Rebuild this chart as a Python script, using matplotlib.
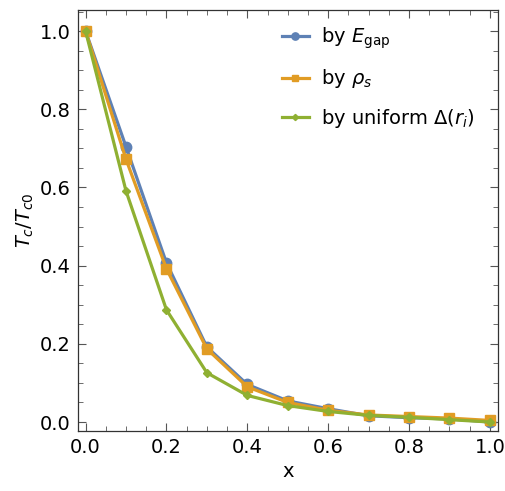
import matplotlib.pyplot as plt
from matplotlib.ticker import MultipleLocator

plt.rcParams['font.family'] = ['DejaVu Sans']
plt.rcParams['mathtext.fontset'] = 'dejavusans'

# данные
x = [0.0, 0.1, 0.2, 0.3, 0.4, 0.5, 0.6, 0.7, 0.8, 0.9, 1.0]
tc_egap = [1.0, 0.704, 0.407, 0.192, 0.096, 0.054, 0.034, 0.016, 0.011, 0.008, 0.0]
tc_rho = [1.0, 0.672, 0.392, 0.187, 0.090, 0.050, 0.030, 0.018, 0.014, 0.010, 0.004]
tc_unif = [1.0, 0.591, 0.287, 0.126, 0.068, 0.042, 0.027, 0.017, 0.012, 0.006, 0.0]

blue = '#5E81B5'
orange = '#E19C24'
green = '#8FB032'

fig = plt.figure(figsize=(5.05, 4.91), dpi=100)
ax = fig.add_axes([0.1535, 0.1222, 0.8325, 0.8574])

ax.plot(x, tc_egap, '-o', color=blue, lw=2.3, ms=7.5, label=r'by $E_{\rm gap}$')
ax.plot(x, tc_rho, '-s', color=orange, lw=2.3, ms=6.5, label=r'by $\rho_s$')
ax.plot(x, tc_unif, '-D', color=green, lw=2.3, ms=4.5, label=r'by uniform $\Delta(r_i)$')

ax.set_xlim(-0.02, 1.02)
ax.set_ylim(-0.023, 1.054)
ax.xaxis.set_major_locator(MultipleLocator(0.2))
ax.xaxis.set_minor_locator(MultipleLocator(0.05))
ax.yaxis.set_major_locator(MultipleLocator(0.2))
ax.yaxis.set_minor_locator(MultipleLocator(0.05))
ax.xaxis.set_major_formatter(plt.FormatStrFormatter('%.1f'))
ax.yaxis.set_major_formatter(plt.FormatStrFormatter('%.1f'))
ax.tick_params(which='both', direction='in', top=True, right=True, labelsize=14, color='#555555')
ax.tick_params(which='major', length=6, width=0.8, pad=5)
ax.tick_params(which='minor', length=3.5, width=0.6)
for s in ax.spines.values():
    s.set_color('#333333')
    s.set_linewidth(0.9)

ax.set_xlabel('x', fontsize=14, labelpad=4)
ax.set_ylabel(r'$T_c/T_{c0}$', fontsize=14, labelpad=3)

leg = ax.legend(loc='upper right', frameon=False, fontsize=14, handlelength=1.4,
                handletextpad=0.6, labelspacing=0.85, markerscale=0.7,
                bbox_to_anchor=(0.985, 1.005))

fig.savefig('out.png', dpi=100)
